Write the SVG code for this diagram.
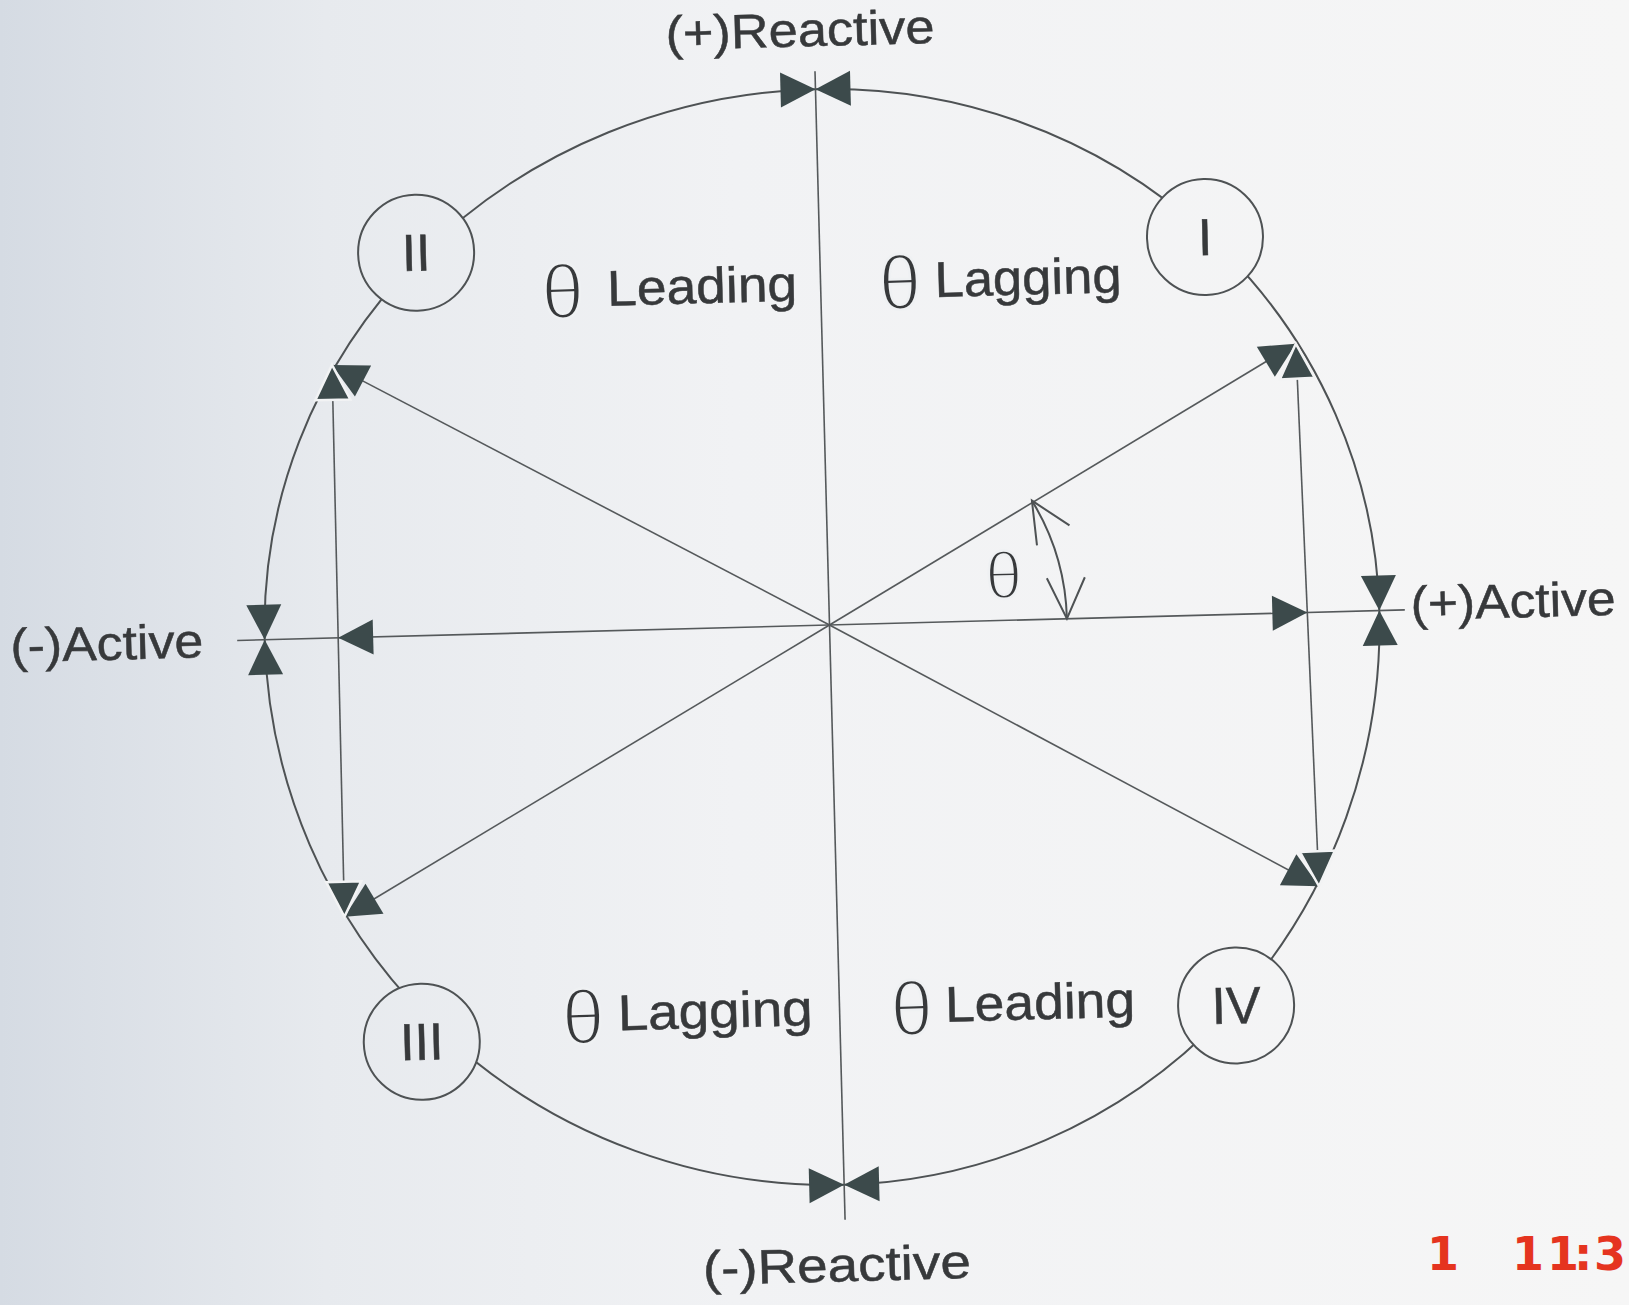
<svg xmlns="http://www.w3.org/2000/svg" width="1629" height="1305" viewBox="0 0 1629 1305">
<defs>
<linearGradient id="bg" gradientUnits="userSpaceOnUse" x1="0" y1="0" x2="1629" y2="0">
<stop offset="0" stop-color="#d5dbe3"/>
<stop offset="0.2" stop-color="#e7eaee"/>
<stop offset="0.45" stop-color="#f1f2f4"/>
<stop offset="1" stop-color="#f6f6f6"/>
</linearGradient>
<path id="tri" d="M0,0 L-35,-17.5 L-35,17.5 Z"/>
<style>
.ln{stroke:#55595b;stroke-width:1.6;fill:none}
.rim{stroke:#4e5254;stroke-width:2;fill:none}
.ah{fill:#3c4a4b}
.ah2{fill:#3c4a4b;stroke:#f2f3f4;stroke-width:2.5}
.q{fill:url(#bg);stroke:#4e5254;stroke-width:2}
.t{font-family:"Liberation Sans",Arial,sans-serif;fill:#37393b;stroke:#37393b;stroke-width:0.5}
.lbl{font-size:48px}
.ql{font-size:50px}
.th{font-size:76px;text-anchor:middle;stroke:#eff1f3;stroke-width:2.6}
.rn{font-size:52px;text-anchor:middle}
.open{stroke:#4e5254;stroke-width:2;fill:none;stroke-linejoin:miter}
</style>
</defs>
<rect x="0" y="0" width="1629" height="1305" fill="url(#bg)"/>
<g transform="rotate(-1.5 828 625)">
  <g id="connectors">
    <path id="rim" class="rim" d="M829.5,89 A550,536 0 0 1 1379.5,625 A550,560 0 0 1 829.5,1185 A565,560 0 0 1 264.5,625 A565,536 0 0 1 829.5,89 Z"/>
    <line class="ln" x1="829.5" y1="71" x2="829.5" y2="1220"/>
    <line class="ln" x1="237" y1="625" x2="1405" y2="625"/>
    <line class="ln" x1="829.5" y1="625" x2="1303" y2="356"/>
    <line class="ln" x1="829.5" y1="625" x2="1312" y2="899"/>
    <line class="ln" x1="829.5" y1="625" x2="339" y2="352"/>
    <line class="ln" x1="829.5" y1="625" x2="337" y2="904"/>
    <line class="ln" x1="1303" y1="356" x2="1312" y2="899"/>
    <line class="ln" x1="339" y1="352" x2="337" y2="904"/>
    <!-- bowties -->
    <use href="#tri" class="ah" transform="translate(829.5,89)"/>
    <use href="#tri" class="ah" transform="translate(829.5,89) rotate(180)"/>
    <use href="#tri" class="ah" transform="translate(829.5,1185)"/>
    <use href="#tri" class="ah" transform="translate(829.5,1185) rotate(180)"/>
    <use href="#tri" class="ah" transform="translate(264.5,625) rotate(90)"/>
    <use href="#tri" class="ah" transform="translate(264.5,625) rotate(-90)"/>
    <use href="#tri" class="ah" transform="translate(1379.5,625) rotate(90)"/>
    <use href="#tri" class="ah" transform="translate(1379.5,625) rotate(-90)"/>
    <!-- horizontal arrows -->
    <use href="#tri" class="ah" transform="translate(1307.5,625)"/>
    <use href="#tri" class="ah" transform="translate(338,625) rotate(180)"/>
    <!-- diagonal arrows -->
    <use href="#tri" class="ah" transform="translate(1303,356) rotate(-29.6)"/>
    <use href="#tri" class="ah" transform="translate(1312,899) rotate(29.6)"/>
    <use href="#tri" class="ah" transform="translate(339,352) rotate(209.1)"/>
    <use href="#tri" class="ah" transform="translate(337,904) rotate(150.6)"/>
    <!-- chord arrows -->
    <use href="#tri" class="ah2" transform="translate(1303,356) rotate(-91)"/>
    <use href="#tri" class="ah2" transform="translate(1312,899) rotate(89)"/>
    <use href="#tri" class="ah2" transform="translate(339,352) rotate(-89.8)"/>
    <use href="#tri" class="ah2" transform="translate(337,904) rotate(90.2)"/>
    <!-- theta angle arrow -->
    <path class="open" d="M1035.1,506 A238,238 0 0 1 1067,625"/>
    <path class="open" d="M1072,531.8 L1035.1,506 L1039,550.8"/>
    <path class="open" d="M1048,584 L1067,625 L1086,584"/>
  </g>
  <g id="quadrant-I">
    <circle class="q" cx="1215" cy="247" r="58"/>
    <text class="t rn" x="1215" y="265">I</text>
  </g>
  <g id="quadrant-II">
    <circle class="q" cx="426" cy="242" r="58"/>
    <text class="t rn" x="426" y="260">II</text>
  </g>
  <g id="quadrant-III">
    <circle class="q" cx="411" cy="1031" r="58"/>
    <text class="t rn" x="411" y="1049">III</text>
  </g>
  <g id="quadrant-IV">
    <circle class="q" cx="1226" cy="1016" r="58"/>
    <text class="t rn" x="1226" y="1034">IV</text>
  </g>
  <g id="label-pos-reactive"><text class="t lbl" x="681" y="46" textLength="269" lengthAdjust="spacingAndGlyphs">(+)Reactive</text></g>
  <g id="label-neg-reactive"><text class="t lbl" x="686" y="1281.5" textLength="268" lengthAdjust="spacingAndGlyphs">(-)Reactive</text></g>
  <g id="label-pos-active"><text class="t lbl" x="1411" y="635.5" textLength="205" lengthAdjust="spacingAndGlyphs">(+)Active</text></g>
  <g id="label-neg-active"><text class="t lbl" x="10" y="641" textLength="193" lengthAdjust="spacingAndGlyphs">(-)Active</text></g>
  <g id="label-II">
    <text class="t th" x="571.5" y="311">θ</text>
    <text class="t ql" x="616" y="300" textLength="190" lengthAdjust="spacingAndGlyphs">Leading</text>
  </g>
  <g id="label-I">
    <text class="t th" x="909" y="311">θ</text>
    <text class="t ql" x="943.5" y="300" textLength="187" lengthAdjust="spacingAndGlyphs">Lagging</text>
  </g>
  <g id="label-III">
    <text class="t th" x="573" y="1037">θ</text>
    <text class="t ql" x="607.6" y="1024.6" textLength="195" lengthAdjust="spacingAndGlyphs">Lagging</text>
  </g>
  <g id="label-IV">
    <text class="t th" x="901.6" y="1037">θ</text>
    <text class="t ql" x="935" y="1024.6" textLength="190" lengthAdjust="spacingAndGlyphs">Leading</text>
  </g>
  <g id="label-angle">
    <text class="t th" x="1005" y="603" style="font-size:66px" fill="#4a4c4e">θ</text>
  </g>
</g>
<g id="timestamp">
  <text x="1427 1470 1512 1547 1574 1594" y="1270" font-family="DejaVu Sans, Liberation Sans, sans-serif" font-weight="bold" font-size="46" fill="#e5341f">1 11:3</text>
</g>
</svg>
